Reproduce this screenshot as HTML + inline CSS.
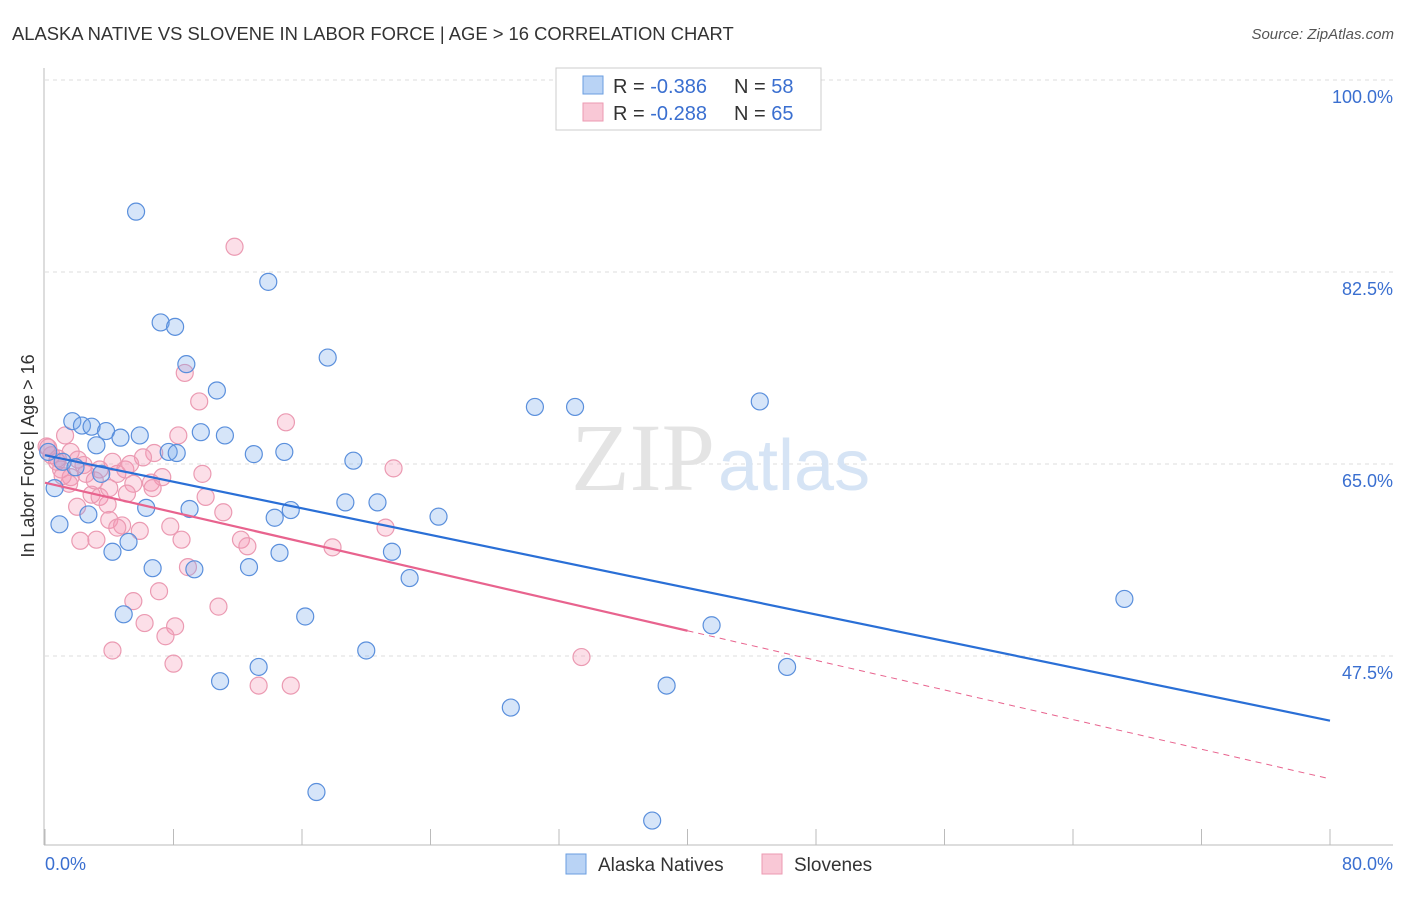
<!DOCTYPE html>
<html><head><meta charset="utf-8"><style>
body{margin:0;background:#fff;font-family:"Liberation Sans",sans-serif}
</style></head><body>
<svg width="1406" height="892" viewBox="0 0 1406 892" xmlns="http://www.w3.org/2000/svg">
<text x="12" y="40" font-size="18.4" fill="#333">ALASKA NATIVE VS SLOVENE IN LABOR FORCE | AGE &gt; 16 CORRELATION CHART</text>
<text x="1394" y="39" font-size="15" fill="#555" font-style="italic" text-anchor="end">Source: ZipAtlas.com</text>
<text x="0" y="0" transform="translate(34,456) rotate(-90)" font-size="18" fill="#333" text-anchor="middle">In Labor Force | Age &gt; 16</text>
<g id="grid"></g>
<text x="715" y="490" font-size="96" font-family="Liberation Serif,serif" fill="#e4e4e4" text-anchor="end">ZIP</text>
<text x="718" y="490" font-size="72" fill="#d6e4f5">atlas</text>
<g id="marks"></g>
<g>
<rect x="556" y="68" width="265" height="62" fill="#fff" stroke="#ccc"/>
<rect x="583" y="76" width="20" height="18" fill="#b9d3f5" stroke="#6a9ee0"/>
<rect x="583" y="103" width="20" height="18" fill="#f9c8d6" stroke="#ec9ab2"/>
<text x="613" y="93" font-size="20" fill="#333">R = <tspan fill="#3a6fd0">-0.386</tspan></text>
<text x="734" y="93" font-size="20" fill="#333">N = <tspan fill="#3a6fd0">58</tspan></text>
<text x="613" y="120" font-size="20" fill="#333">R = <tspan fill="#3a6fd0">-0.288</tspan></text>
<text x="734" y="120" font-size="20" fill="#333">N = <tspan fill="#3a6fd0">65</tspan></text>
</g>
<g>
<rect x="566" y="854" width="20" height="20" fill="#b9d3f5" stroke="#6a9ee0"/>
<text x="598" y="871" font-size="19" fill="#333">Alaska Natives</text>
<rect x="762" y="854" width="20" height="20" fill="#f9c8d6" stroke="#ec9ab2"/>
<text x="794" y="871" font-size="19" fill="#333">Slovenes</text>
</g>
</svg>
<script>
const xTicks=[0,10,20,30,40,50,60,70,80];
const yTicks=[47.5,65.0,82.5,100.0];
const xLabels=["0.0%","80.0%"];
const blueX=[5.67,13.9,7.2,8.1,8.8,17.6,10.7,30.5,33.0,44.5,1.7,2.3,2.9,3.8,9.7,11.2,4.7,5.9,3.2,7.7,8.2,13.0,14.9,0.2,19.2,1.1,1.9,3.5,0.6,18.7,20.7,6.3,9.0,15.3,14.3,2.7,24.5,0.9,5.2,4.2,14.6,21.6,6.7,9.3,12.7,22.7,67.2,4.9,16.2,41.5,20.0,13.3,46.2,10.9,38.7,29.0,16.9,37.8];
const blueY=[88.0,81.6,77.9,77.5,74.1,74.7,71.7,70.2,70.2,70.7,68.9,68.5,68.4,68.0,67.9,67.6,67.4,67.6,66.7,66.1,66.0,65.9,66.1,66.1,65.3,65.2,64.7,64.1,62.8,61.5,61.5,61.0,60.9,60.8,60.1,60.4,60.2,59.5,57.9,57.0,56.9,57.0,55.5,55.4,55.6,54.6,52.7,51.3,51.1,50.3,48.0,46.5,46.5,45.2,44.8,42.8,35.1,32.5];
const pinkX=[11.8,8.7,9.6,15.0,1.25,8.3,6.8,1.6,0.2,2.05,0.75,6.1,1.0,1.6,2.55,3.4,4.5,5.0,9.8,21.7,7.3,5.5,1.5,6.6,2.9,5.1,10.0,3.4,3.9,2.0,11.1,4.0,4.8,4.5,5.9,7.8,21.2,12.2,12.6,2.2,3.2,8.5,17.9,8.9,7.1,5.5,10.8,6.2,8.1,7.5,4.2,33.4,8.0,13.3,15.3,0.4,0.1,2.4,3.1,1.1,4.0,5.3,6.7,4.2,0.8];
const pinkY=[84.8,73.3,70.7,68.8,67.6,67.6,66.0,66.1,66.5,65.4,65.2,65.6,64.5,63.8,64.1,64.5,64.1,64.5,64.1,64.6,63.8,63.2,63.2,63.3,62.2,62.3,62.0,62.0,61.3,61.1,60.6,59.9,59.4,59.2,58.9,59.3,59.2,58.1,57.5,58.0,58.1,58.1,57.4,55.6,53.4,52.5,52.0,50.5,50.2,49.3,48.0,47.4,46.8,44.8,44.8,65.8,66.6,64.9,63.5,63.9,62.8,65.0,62.8,65.2,65.5];
const blueTrend=[65.8,41.6];
const pinkTrend=[63.3,36.3];
const pinkSolidEnd=40;
const NS="http://www.w3.org/2000/svg";
const X=v=>45+v/80*1285, Y=v=>80+(100-v)*10.971;
function mk(t,a,p){const e=document.createElementNS(NS,t);for(const k in a)e.setAttribute(k,a[k]);p.appendChild(e);return e;}
const grid=document.getElementById('grid'),marks=document.getElementById('marks');
let ax=mk('line',{x1:44,y1:68,x2:44,y2:845,stroke:'#bbb'},grid);


let bx=mk('line',{x1:44,y1:845,x2:1393,y2:845,stroke:'#bbb'},grid);


for(let i=0;i<=10;i++){const x=X(i*8);let t=mk('line',{x1:x,y1:829,x2:x,y2:845,stroke:'#bbb'},grid);

}
yTicks.forEach(v=>{let g=mk('line',{x1:45,y1:Y(v),x2:1393,y2:Y(v),stroke:'#ddd','stroke-dasharray':'4,4'},grid);


let t=mk('text',{x:1393,y:Y(v)+23,'font-size':18,fill:'#3a6fd0','text-anchor':'end'},grid);t.textContent=v.toFixed(1)+'%';

});
let l0=mk('text',{x:45,y:870,'font-size':18,fill:'#3a6fd0'},grid);l0.textContent=xLabels[0];


let l1=mk('text',{x:1393,y:870,'font-size':18,fill:'#3a6fd0','text-anchor':'end'},grid);l1.textContent=xLabels[1];


pinkX.forEach((x,i)=>{let c=mk('circle',{cx:X(x),cy:Y(pinkY[i]),r:8.5,fill:'rgba(244,150,178,0.3)',stroke:'#eb9ab2','stroke-width':1.2},marks);

});
blueX.forEach((x,i)=>{let c=mk('circle',{cx:X(x),cy:Y(blueY[i]),r:8.5,fill:'rgba(120,170,235,0.3)',stroke:'#5a8fdc','stroke-width':1.2},marks);

});
const py=x=>pinkTrend[0]+(pinkTrend[1]-pinkTrend[0])*x/80;
let bl=mk('line',{x1:X(0),y1:Y(blueTrend[0]),x2:X(80),y2:Y(blueTrend[1]),stroke:'#2a6fd6','stroke-width':2.2},marks);


let pl=mk('line',{x1:X(0),y1:Y(py(0)),x2:X(pinkSolidEnd),y2:Y(py(pinkSolidEnd)),stroke:'#e8638e','stroke-width':2.2},marks);


let pd=mk('line',{x1:X(pinkSolidEnd),y1:Y(py(pinkSolidEnd)),x2:X(80),y2:Y(py(80)),stroke:'#e8638e','stroke-width':1,'stroke-dasharray':'6,5'},marks);


</script>
</body></html>
